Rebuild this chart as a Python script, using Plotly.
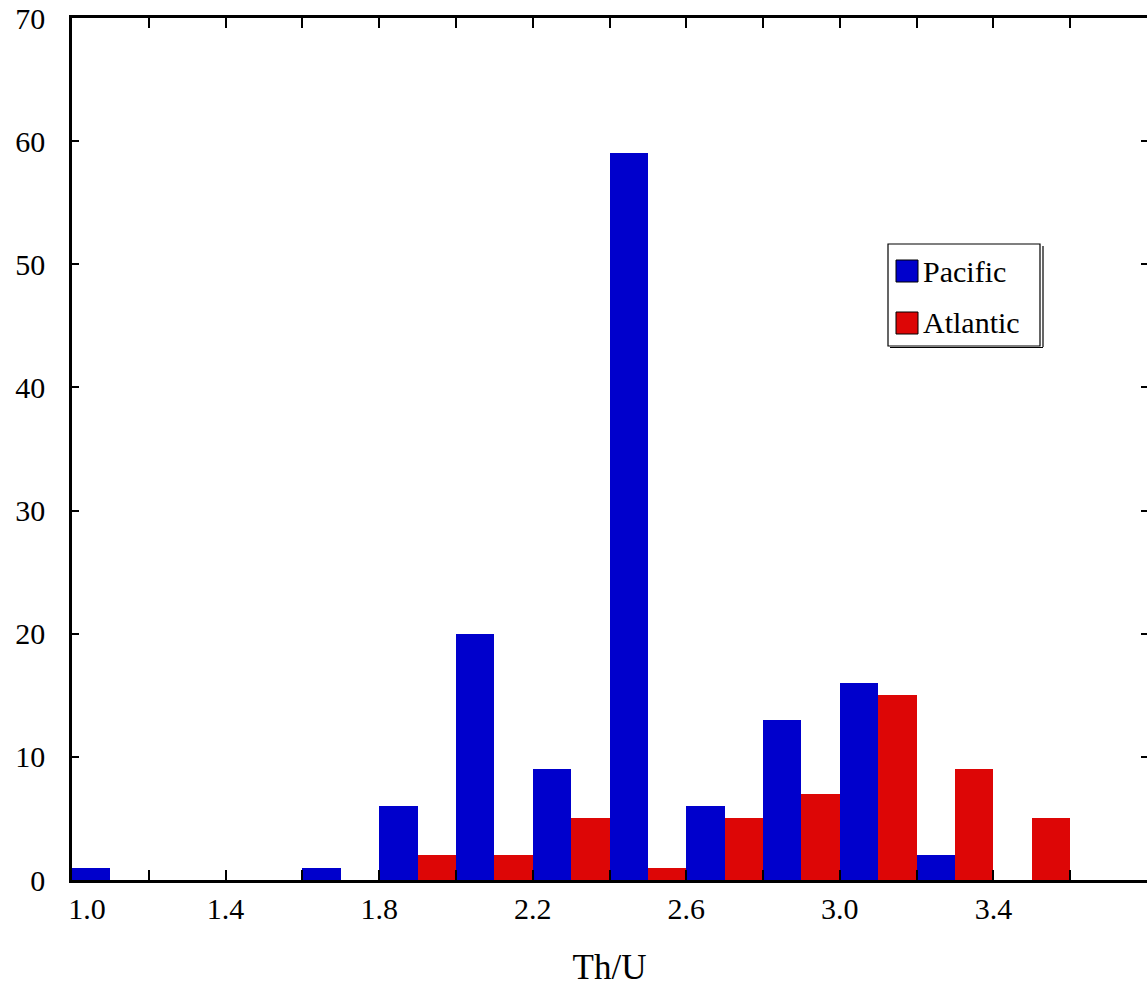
import plotly.graph_objects as go

# Bin centres (bin width 0.2 from 1.0 to 3.6)
bin_centers = [1.1, 1.3, 1.5, 1.7, 1.9, 2.1, 2.3, 2.5, 2.7, 2.9, 3.1, 3.3, 3.5]
pacific = [1, 0, 0, 1, 6, 20, 9, 59, 6, 13, 16, 2, 0]
atlantic = [0, 0, 0, 0, 2, 2, 5, 1, 5, 7, 15, 9, 5]

x_tickvals = [1.0, 1.2, 1.4, 1.6, 1.8, 2.0, 2.2, 2.4, 2.6, 2.8, 3.0, 3.2, 3.4, 3.6]
x_ticktext = ["\u00a0\u00a0\u00a0\u00a01.0", "", "1.4", "", "1.8", "", "2.2", "", "2.6", "", "3.0", "", "3.4", ""]
y_tickvals = [0, 10, 20, 30, 40, 50, 60, 70]

BLUE = "#0000CC"
RED = "#DD0606"
FONT = "Liberation Serif"

fig = go.Figure()
fig.add_trace(go.Bar(x=bin_centers, y=pacific, name="Pacific",
                     marker=dict(color=BLUE, line=dict(width=0)), showlegend=False))
fig.add_trace(go.Bar(x=bin_centers, y=atlantic, name="Atlantic",
                     marker=dict(color=RED, line=dict(width=0)), showlegend=False))

W, H = 1147, 987
L, R, T, B = 72, 0, 18, 107

fig.update_layout(
    width=W, height=H,
    margin=dict(l=L, r=R, t=T, b=B, autoexpand=False),
    paper_bgcolor="white", plot_bgcolor="white",
    barmode="group", bargap=0, bargroupgap=0,
    font=dict(family=FONT, size=30, color="black"),
    xaxis=dict(
        range=[1.0, 3.8], tickmode="array", tickvals=x_tickvals, ticktext=x_ticktext,
        ticks="inside", ticklen=10, tickwidth=2, tickcolor="black",
        showline=True, linewidth=2.5, linecolor="black", mirror="ticks",
        showgrid=False, zeroline=False,
        tickfont=dict(family=FONT, size=30),
        ticklabelstandoff=0,
        title=dict(text="Th/U", font=dict(family=FONT, size=35), standoff=36),
        automargin=False,
    ),
    yaxis=dict(
        range=[0, 70], tickmode="array", tickvals=y_tickvals,
        ticks="inside", ticklen=7, tickwidth=2, tickcolor="black",
        showline=True, linewidth=2.5, linecolor="black", mirror=False,
        showgrid=False, zeroline=False,
        tickfont=dict(family=FONT, size=30),
        ticklabelstandoff=18,
        automargin=False,
    ),
    yaxis2=dict(
        range=[0, 70], tickmode="array", tickvals=y_tickvals, showticklabels=False,
        ticks="inside", ticklen=6, tickwidth=2, tickcolor="black",
        overlaying="y", side="right", showline=False, showgrid=False, zeroline=False,
    ),
)
# invisible trace to activate right-side axis ticks
fig.add_trace(go.Scatter(x=[None], y=[None], yaxis="y2", showlegend=False, hoverinfo="skip"))

# Manual legend (paper coordinates)
pw, ph = W - L - R, H - T - B
def px(x):
    return (x - L) / pw
def py(y):
    return (H - B - y) / ph

fig.add_shape(type="rect", xref="paper", yref="paper",
              x0=px(888), x1=px(1040), y0=py(346), y1=py(244),
              line=dict(color="black", width=1.2), fillcolor="white", layer="above")
fig.add_shape(type="line", xref="paper", yref="paper",
              x0=px(1043), x1=px(1043), y0=py(347), y1=py(246),
              line=dict(color="black", width=1.2), layer="above")
fig.add_shape(type="line", xref="paper", yref="paper",
              x0=px(890), x1=px(1043), y0=py(347.5), y1=py(347.5),
              line=dict(color="black", width=1.2), layer="above")

legend_items = [("Pacific", BLUE, 260, 282), ("Atlantic", RED, 312, 334)]
for name, col, ytop, ybot in legend_items:
    fig.add_shape(type="rect", xref="paper", yref="paper",
                  x0=px(896), x1=px(918), y0=py(ybot), y1=py(ytop),
                  line=dict(color="black", width=1), fillcolor=col, layer="above")
    fig.add_annotation(xref="paper", yref="paper", x=px(921), y=py((ytop + ybot) / 2),
                       text=name, showarrow=False, xanchor="left", yanchor="middle",
                       font=dict(family=FONT, size=30, color="black"))

fig.write_html("out.html", config={"displayModeBar": False},
               post_script="document.body.style.margin='0';document.body.style.overflow='hidden';")
